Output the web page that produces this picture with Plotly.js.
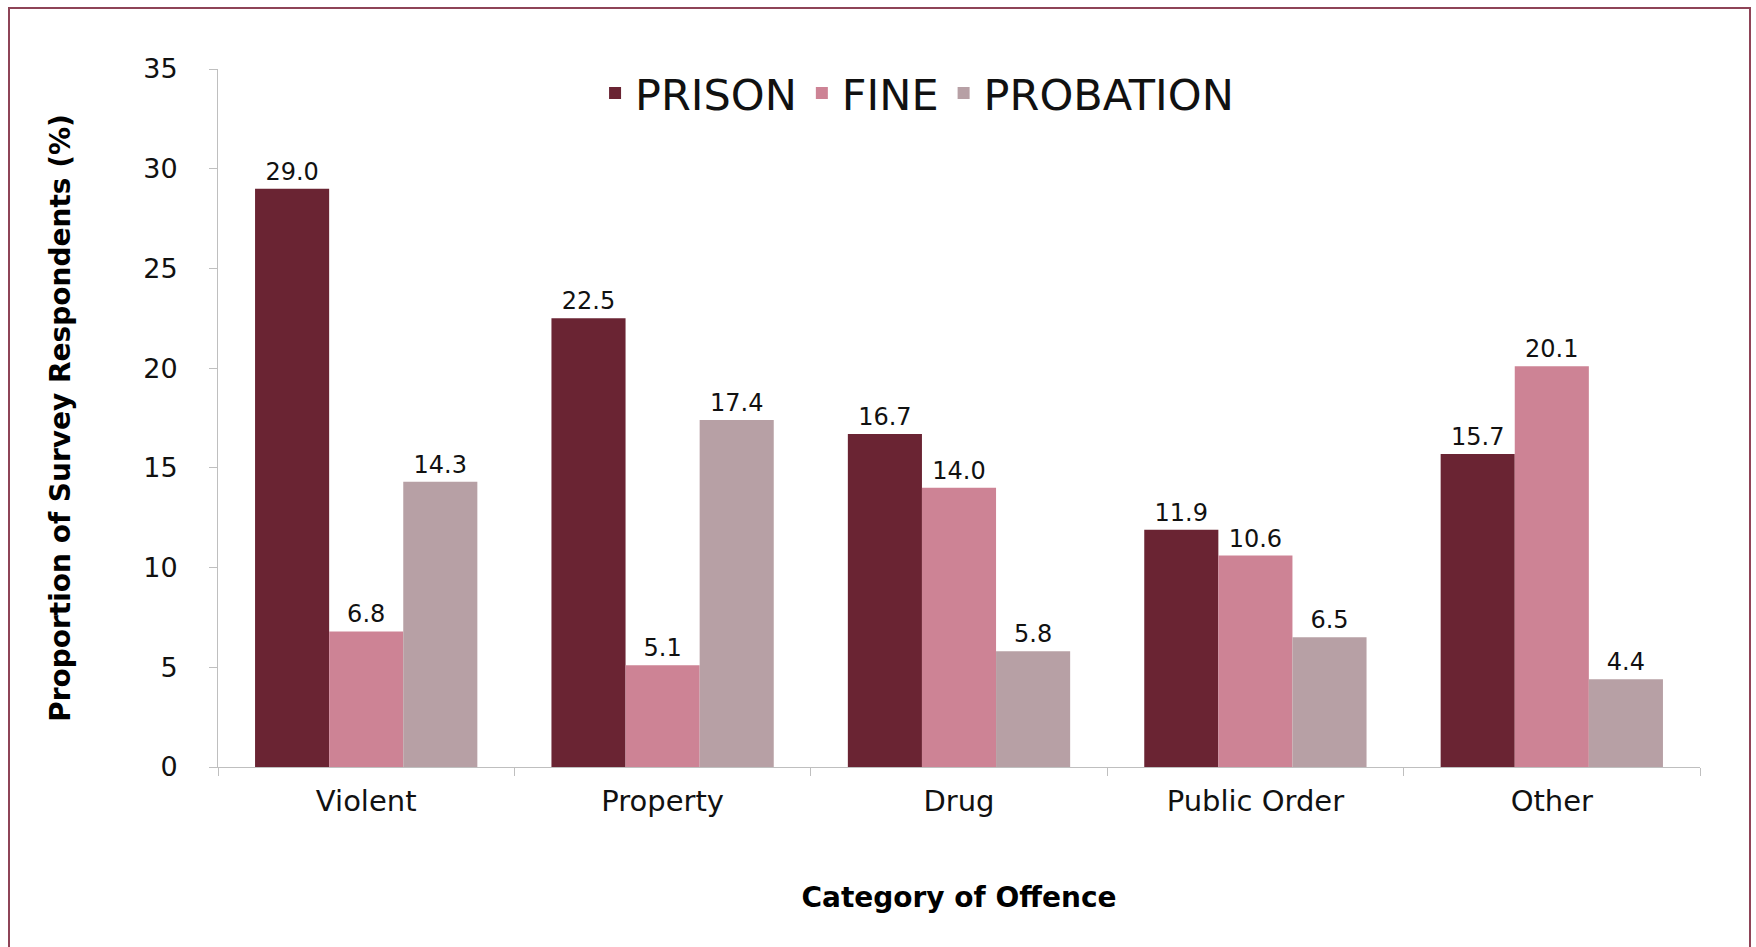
<!DOCTYPE html>
<html>
<head>
<meta charset="utf-8">
<script src="https://cdn.plot.ly/plotly-3.0.1.min.js"></script>
<style>
  html, body { margin: 0; padding: 0; background: #ffffff; }
  #wrap { position: relative; width: 1756px; height: 947px; overflow: hidden; }
  #chart { width: 1756px; height: 947px; }
  #frame { position: absolute; left: 8px; top: 7px; width: 1743px; height: 960px;
           border: 2px solid #8E4457; pointer-events: none; box-sizing: border-box; }
</style>
</head>
<body>
<div id="wrap">
  <div id="chart"></div>
  <div id="frame"></div>
</div>
<script>
const categories = ["Violent", "Property", "Drug", "Public Order", "Other"];
const prison = [29.0, 22.5, 16.7, 11.9, 15.7];
const fine = [6.8, 5.1, 14.0, 10.6, 20.1];
const probation = [14.3, 17.4, 5.8, 6.5, 4.4];
const seriesNames = ["PRISON", "FINE", "PROBATION"];
const yTicks = [0, 5, 10, 15, 20, 25, 30, 35];

const FONT = "DejaVu Sans, Liberation Sans, sans-serif";
const colors = ["#6A2433", "#CD8395", "#B7A0A5"];
const seriesValues = [prison, fine, probation];

const traces = seriesValues.map((vals, i) => ({
  type: "bar",
  name: seriesNames[i],
  x: categories,
  y: vals,
  marker: { color: colors[i], line: { width: 0 } },
  text: vals.map(v => v.toFixed(1)),
  textposition: "outside",
  cliponaxis: false,
  textfont: { family: FONT, size: 24, color: "#111111" },
  hoverinfo: "x+y+name"
}));

const layout = {
  width: 1756,
  height: 947,
  paper_bgcolor: "#ffffff",
  plot_bgcolor: "#ffffff",
  margin: { l: 218, r: 56, t: 69, b: 180 },
  barmode: "group",
  bargap: 0.25,
  bargroupgap: 0,
  showlegend: true,
  legend: {
    orientation: "h",
    x: 0.4717, xanchor: "center",
    y: 0.9656, yanchor: "middle",
    font: { family: FONT, size: 43, color: "#111111" },
    itemwidth: 30,
    bgcolor: "rgba(0,0,0,0)"
  },
  xaxis: {
    type: "category",
    showgrid: false,
    showline: true,
    linecolor: "#BFBFBF",
    linewidth: 1,
    ticks: "outside",
    tickson: "boundaries",
    ticklen: 8,
    tickcolor: "#BFBFBF",
    tickfont: { family: FONT, size: 29, color: "#111111" },
    ticklabelstandoff: 8,
    title: { text: "Category of Offence", font: { family: FONT, size: 28, color: "#000000", weight: "bold" }, standoff: 70 },
    zeroline: false
  },
  yaxis: {
    range: [0, 35],
    tickvals: yTicks,
    showgrid: false,
    showline: true,
    linecolor: "#BFBFBF",
    linewidth: 1,
    ticks: "outside",
    ticklen: 8,
    tickcolor: "#BFBFBF",
    tickfont: { family: FONT, size: 27, color: "#111111" },
    ticklabelstandoff: 26,
    zeroline: false,
    title: { text: "Proportion of Survey Respondents (%)", font: { family: FONT, size: 28, color: "#000000", weight: "bold" }, standoff: 64 }
  }
};

Plotly.newPlot("chart", traces, layout, { displayModeBar: false, staticPlot: false });
</script>
</body>
</html>
